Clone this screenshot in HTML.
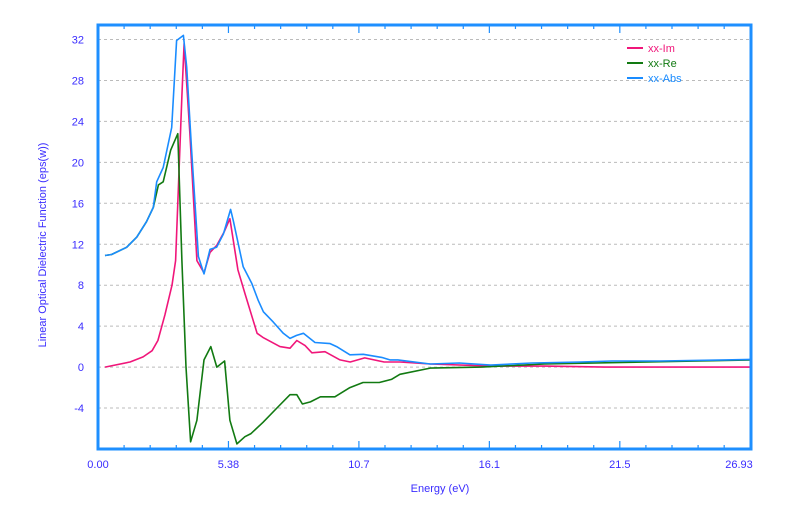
<!DOCTYPE html>
<html><head><meta charset="utf-8"><style>
body{margin:0;background:#fff;width:800px;height:514px;overflow:hidden}
svg text{font-family:"Liberation Sans",sans-serif}
</style></head><body>
<svg id="chart" width="800" height="514" xmlns="http://www.w3.org/2000/svg"></svg>
<script>
const xTickLabels=["0.00","5.38","10.7","16.1","21.5","26.93"];
const xTickValues=[0,5.38,10.76,16.14,21.52,26.93];
const yTickValues=[-8,-4,0,4,8,12,16,20,24,28,32];
const imX=[0.29,1.32,1.86,2.23,2.47,2.76,3.05,3.2,3.46,3.55,3.79,4.08,4.37,4.62,4.9,5.2,5.44,5.77,6.06,6.56,6.8,7.5,7.92,8.2,8.54,8.82,9.36,9.98,10.4,11.0,11.8,12.45,13.7,16.2,18.4,20.9,26.93];
const imY=[0,0.5,1.0,1.6,2.6,5.1,8.0,10.4,26.5,31.6,22.8,10.4,9.2,11.2,11.9,13.2,14.5,9.5,7.2,3.3,2.9,2.0,1.85,2.6,2.1,1.4,1.5,0.7,0.5,0.9,0.5,0.5,0.3,0.1,0.1,0,0];
const reX=[0.29,0.56,1.18,1.6,2.0,2.28,2.49,2.69,3.0,3.29,3.46,3.63,3.82,4.08,4.37,4.65,4.9,5.22,5.44,5.73,6.06,6.31,6.8,7.42,7.92,8.2,8.43,8.76,9.17,9.77,10.39,10.93,11.6,12.1,12.45,13.7,15.8,18.4,26.93];
const reY=[10.9,11.0,11.7,12.7,14.2,15.6,17.8,18.1,21.2,22.8,10.4,0,-7.3,-5.2,0.7,2.0,0.0,0.6,-5.2,-7.5,-6.8,-6.5,-5.4,-3.9,-2.7,-2.7,-3.6,-3.4,-2.9,-2.9,-2.0,-1.5,-1.5,-1.2,-0.7,-0.1,0,0.3,0.7];
const absX=[0.29,0.56,1.18,1.6,2.0,2.28,2.42,2.69,3.04,3.24,3.52,3.66,3.86,4.14,4.37,4.62,4.89,5.17,5.47,5.58,5.99,6.34,6.61,6.82,7.23,7.64,7.92,8.19,8.47,8.95,9.57,9.84,10.39,10.94,11.7,12.04,12.37,13.7,14.9,16.2,17.9,19.9,21.2,23.2,25.9,26.93];
const absY=[10.9,11.0,11.7,12.7,14.2,15.6,18.1,19.5,23.4,31.9,32.4,29.3,21.2,10.8,9.1,11.5,11.7,13.0,15.4,14.3,9.8,8.2,6.5,5.4,4.4,3.3,2.8,3.1,3.3,2.4,2.3,2.0,1.2,1.25,0.95,0.7,0.7,0.3,0.4,0.2,0.4,0.5,0.6,0.6,0.7,0.75];

const L=98,R=751,T=25,B=449,NS="http://www.w3.org/2000/svg";
const xMin=0,xMax=26.93,yMin=-8,yMax=32,y0px=39.5;
const sx=v=>L+(v-xMin)/(xMax-xMin)*(R-L);
const sy=v=>B-(v-yMin)/(yMax-yMin)*(B-y0px);
const svg=document.getElementById('chart');
function mk(tag,attrs,parent){const e=document.createElementNS(NS,tag);for(const k in attrs)e.setAttribute(k,attrs[k]);(parent||svg).appendChild(e);return e;}

const grid=mk('g',{});


yTickValues.forEach(v=>{
  if(v===yMin)return;
  const ln=mk('line',{x1:L,x2:R,y1:sy(v),y2:sy(v),stroke:'#bbb','stroke-dasharray':'3,3','stroke-width':1},grid);
  
  
  const t=mk('text',{x:84,y:sy(v)+4,'text-anchor':'end','font-size':11,fill:'#3a2cff'});
  t.textContent=v;
  
  
});
// x ticks
const step=xTickValues[1]/5;
for(let i=0;i*step<=xMax+0.01;i++){
  const v=i*step,px=sx(v),major=i%5===0,len=major?8:4;
  mk('line',{x1:px,x2:px,y1:T,y2:T+len,stroke:'#1e8fff','stroke-width':1.2});
  mk('line',{x1:px,x2:px,y1:B,y2:B-len,stroke:'#1e8fff','stroke-width':1.2});
}
xTickValues.forEach((v,i)=>{
  const last=i===xTickValues.length-1;
  const t=mk('text',{x:last?sx(v)-12:sx(v),y:468,'text-anchor':'middle','font-size':11,fill:'#3a2cff'});
  t.textContent=xTickLabels[i];
  
  
});
function series(xs,ys,color,name){
  const d=xs.map((x,i)=>(i?'L':'M')+sx(x).toFixed(1)+','+sy(ys[i]).toFixed(1)).join(' ');
  const p=mk('path',{d:d,fill:'none',stroke:color,'stroke-width':1.6,'stroke-linejoin':'round'});
  
  
}
series(imX,imY,'#f0167a','series-xx-im');
series(reX,reY,'#127a12','series-xx-re');
series(absX,absY,'#1a8cff','series-xx-abs');

const frame=mk('rect',{x:L,y:T,width:R-L,height:B-T,fill:'none',stroke:'#1e8fff','stroke-width':3});



const leg=[['xx-Im','#f0167a',48],['xx-Re','#127a12',63],['xx-Abs','#1a8cff',78]];
leg.forEach(l=>{
  const g=mk('g',{});
  
  
  mk('line',{x1:627,x2:643,y1:l[2],y2:l[2],stroke:l[1],'stroke-width':2},g);
  const t=mk('text',{x:648,y:l[2]+4,'font-size':11,fill:l[1]},g);
  t.textContent=l[0];
});
const xt=mk('text',{x:440,y:492,'text-anchor':'middle','font-size':11,fill:'#3a2cff'});
xt.textContent='Energy (eV)';


const yt=mk('text',{x:0,y:0,'text-anchor':'middle','font-size':11,fill:'#3a2cff',transform:'translate(46,245) rotate(-90)'});
yt.textContent='Linear Optical Dielectric Function (eps(w))';


</script>
</body></html>
